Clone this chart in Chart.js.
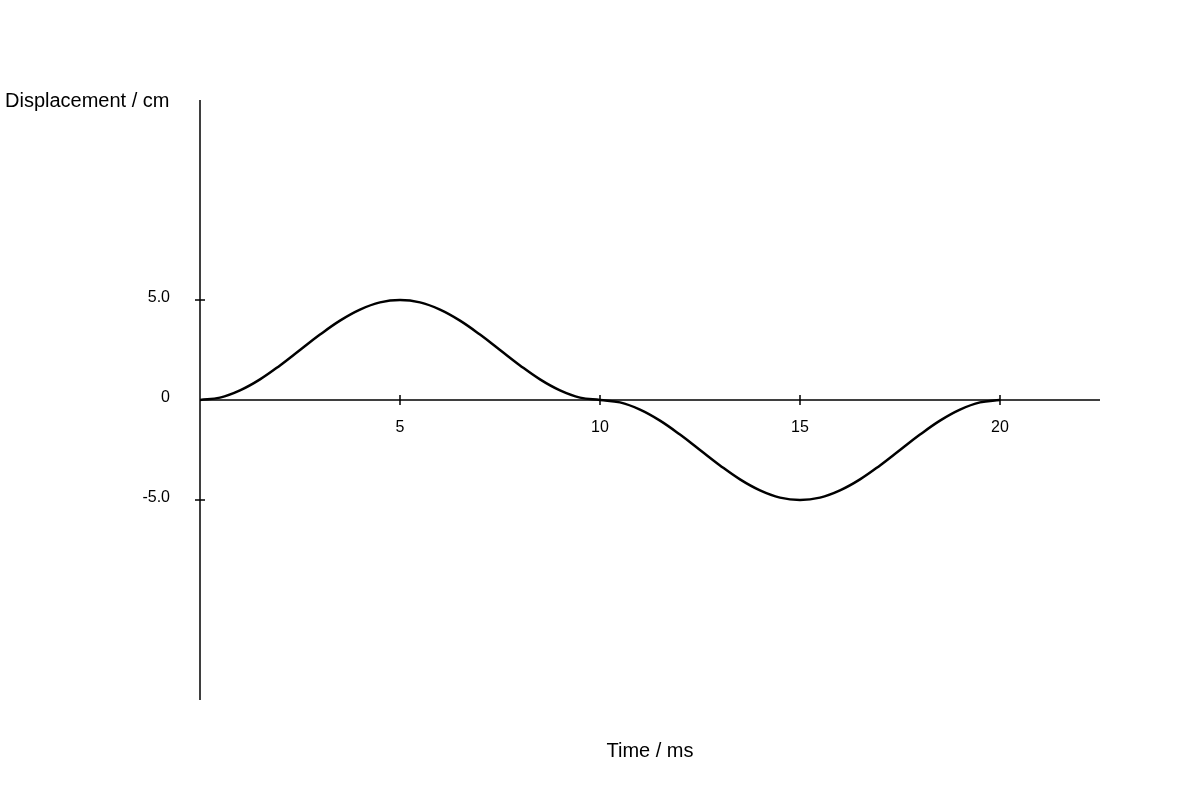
<!DOCTYPE html>
<html><head><meta charset="utf-8">
<script src="https://cdn.jsdelivr.net/npm/chart.js@4"></script>
<style>html,body{margin:0;background:#fff}</style>
</head><body>
<canvas id="c" width="1200" height="800"></canvas>
<script>
const times = [0,0.5,1,1.5,2,2.5,3,3.5,4,4.5,5,5.5,6,6.5,7,7.5,8,8.5,9,9.5,10,10.5,11,11.5,12,12.5,13,13.5,14,14.5,15,15.5,16,16.5,17,17.5,18,18.5,19,19.5,20];
const displacement = [0,0.12,0.48,1.03,1.73,2.5,3.27,3.97,4.52,4.88,5,4.88,4.52,3.97,3.27,2.5,1.73,1.03,0.48,0.12,0,-0.12,-0.48,-1.03,-1.73,-2.5,-3.27,-3.97,-4.52,-4.88,-5,-4.88,-4.52,-3.97,-3.27,-2.5,-1.73,-1.03,-0.48,-0.12,0];
const xTicks = [5,10,15,20];
const xTickLabels = ['5','10','15','20'];
const yTicks = [5,0,-5];
const yTickLabels = ['5.0','0','-5.0'];
const xTitle = 'Time / ms';
const yTitle = 'Displacement / cm';

const axesPlugin = {
  id:'axes',
  afterDatasetsDraw(chart){
    const {ctx, chartArea:a, scales:{x,y}} = chart;
    const y0 = y.getPixelForValue(0), x0 = x.getPixelForValue(0);
    ctx.save();
    ctx.strokeStyle='#000'; ctx.lineWidth=1.5;
    ctx.beginPath();
    ctx.moveTo(x0,a.top); ctx.lineTo(x0,a.bottom);
    ctx.moveTo(a.left,y0); ctx.lineTo(a.right,y0);
    xTicks.forEach(v=>{const p=x.getPixelForValue(v);ctx.moveTo(p,y0-5);ctx.lineTo(p,y0+5);});
    yTicks.forEach(v=>{if(v===0)return;const p=y.getPixelForValue(v);ctx.moveTo(x0-5,p);ctx.lineTo(x0+5,p);});
    ctx.stroke();
    ctx.fillStyle='#000';
    ctx.font='16px "Liberation Sans", Arial, sans-serif';
    ctx.textAlign='center'; ctx.textBaseline='middle';
    xTicks.forEach((v,i)=>ctx.fillText(xTickLabels[i], x.getPixelForValue(v), y0+28));
    ctx.textAlign='right';
    yTicks.forEach((v,i)=>ctx.fillText(yTickLabels[i], x0-30, y.getPixelForValue(v)-2));
    ctx.font='20px "Liberation Sans", Arial, sans-serif';
    ctx.textAlign='left';
    ctx.fillText(yTitle, 5, 101);
    ctx.textAlign='center';
    ctx.fillText(xTitle, (a.left+a.right)/2, 751);
    ctx.restore();
  }
};

new Chart(document.getElementById('c'),{
  type:'line',
  data:{datasets:[{data:times.map((t,i)=>({x:t,y:displacement[i]})),borderColor:'#000',borderWidth:2.5,pointRadius:0,tension:0.4,fill:false}]},
  options:{
    responsive:false, animation:false,
    layout:{padding:{left:200,right:100,top:100,bottom:100}},
    plugins:{legend:{display:false},tooltip:{enabled:false}},
    scales:{
      x:{type:'linear',min:0,max:22.5,display:false},
      y:{type:'linear',min:-15,max:15,display:false}
    }
  },
  plugins:[axesPlugin]
});
</script>
</body></html>
